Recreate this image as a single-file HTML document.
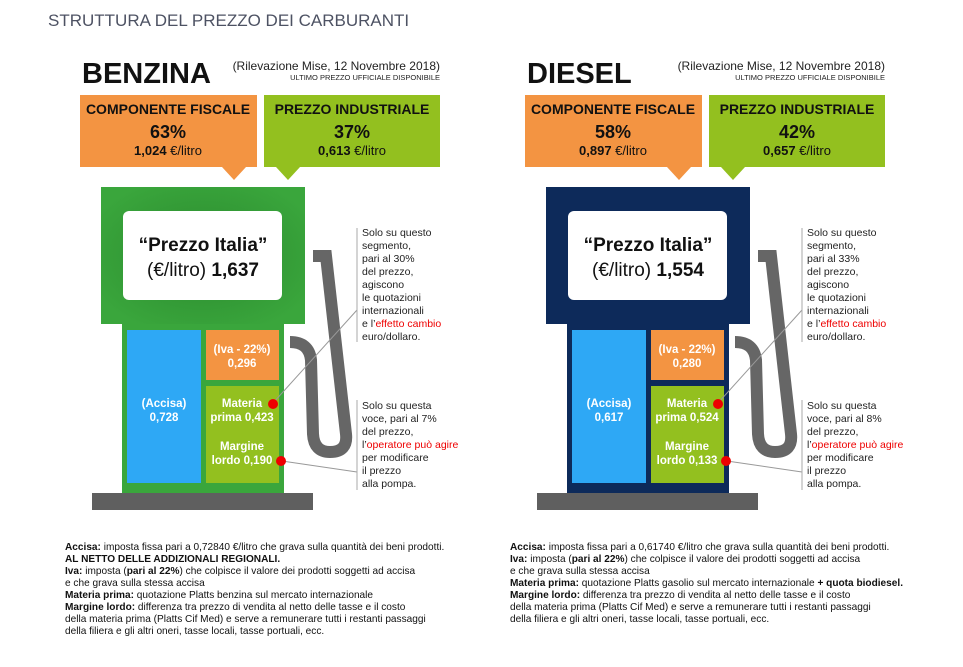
<!DOCTYPE html>
<html><head><meta charset="utf-8"><style>
html,body{margin:0;padding:0;background:#fff;}
svg{display:block;font-family:"Liberation Sans",sans-serif;}
</style></head><body>
<svg width="963" height="667" viewBox="0 0 963 667" xmlns="http://www.w3.org/2000/svg">
<defs>
<radialGradient id="gg" cx="50%" cy="50%" r="60%"><stop offset="0" stop-color="#2a8a2e"/><stop offset="1" stop-color="#3aa63c"/></radialGradient>
</defs>
<text x="48" y="26" font-size="17" fill="#4d5263">STRUTTURA DEL PREZZO DEI CARBURANTI</text>

<!-- BENZINA -->
<g>
<text x="82" y="83" font-size="29" font-weight="bold" fill="#111">BENZINA</text>
<text x="440" y="70" font-size="12" fill="#222" text-anchor="end">(Rilevazione Mise, 12 Novembre 2018)</text>
<text x="440" y="80" font-size="7.5" fill="#222" text-anchor="end">ULTIMO PREZZO UFFICIALE DISPONIBILE</text>
<rect x="80" y="95" width="177" height="72" fill="#f39442"/>
<polygon points="222,167 246,167 234,180" fill="#f39442"/>
<rect x="264" y="95" width="176" height="72" fill="#93c01f"/>
<polygon points="276,167 300,167 288,180" fill="#93c01f"/>
<text x="168" y="114" font-size="14" font-weight="bold" text-anchor="middle" fill="#111">COMPONENTE FISCALE</text>
<text x="168" y="138" font-size="18" font-weight="bold" text-anchor="middle" fill="#111">63%</text>
<text x="168" y="155" font-size="13" text-anchor="middle" fill="#111"><tspan font-weight="bold">1,024</tspan> €/litro</text>
<text x="352" y="114" font-size="14" font-weight="bold" text-anchor="middle" fill="#111">PREZZO INDUSTRIALE</text>
<text x="352" y="138" font-size="18" font-weight="bold" text-anchor="middle" fill="#111">37%</text>
<text x="352" y="155" font-size="13" text-anchor="middle" fill="#111"><tspan font-weight="bold">0,613</tspan> €/litro</text>

<path d="M313 256 L326 256 L346 434 Q348 452 330 452 Q314 452 313 434 L311 360 Q309 342 290 342" fill="none" stroke="#666" stroke-width="12"/>
<rect x="101" y="187" width="204" height="137" fill="url(#gg)"/>
<rect x="122" y="324" width="162" height="169" fill="#3aa63c"/>
<rect x="123" y="211" width="159" height="89" rx="6" fill="#fff"/>
<text x="203" y="251" font-size="19" font-weight="bold" text-anchor="middle" fill="#111">“Prezzo Italia”</text>
<text x="203" y="276" font-size="19" text-anchor="middle" fill="#111">(€/litro) <tspan font-weight="bold">1,637</tspan></text>
<rect x="127" y="330" width="74" height="153" fill="#2ea8f5"/>
<rect x="206" y="330" width="73" height="50" fill="#f39442"/>
<rect x="206" y="386" width="73" height="97" fill="#93c01f"/>
<g fill="#fff" font-size="11.5" font-weight="bold" text-anchor="middle">
<text x="164" y="407">(Accisa)</text><text x="164" y="421">0,728</text>
<text x="242" y="353">(Iva - 22%)</text><text x="242" y="367">0,296</text>
<text x="242" y="407">Materia</text><text x="242" y="421">prima 0,423</text>
<text x="242" y="450">Margine</text><text x="242" y="464">lordo 0,190</text>
</g>
<rect x="92" y="493" width="221" height="17" fill="#5f5f5f"/>
<line x1="273" y1="403" x2="357" y2="310" stroke="#999" stroke-width="1"/>
<line x1="282" y1="461" x2="357" y2="472" stroke="#999" stroke-width="1"/>
<circle cx="273" cy="404" r="5" fill="#e00"/>
<circle cx="281" cy="461" r="5" fill="#e00"/>
<line x1="357" y1="228" x2="357" y2="342" stroke="#aaa"/>
<line x1="357" y1="400" x2="357" y2="490" stroke="#aaa"/>
<g font-size="10.5" fill="#222">
<text x="362" y="236">Solo su questo</text><text x="362" y="249">segmento,</text><text x="362" y="262">pari al 30%</text><text x="362" y="275">del prezzo,</text><text x="362" y="288">agiscono</text><text x="362" y="301">le quotazioni</text><text x="362" y="314">internazionali</text><text x="362" y="327">e l’<tspan fill="#e00">effetto cambio</tspan></text><text x="362" y="340">euro/dollaro.</text>
<text x="362" y="409">Solo su questa</text><text x="362" y="422">voce, pari al 7%</text><text x="362" y="435">del prezzo,</text><text x="362" y="448">l’<tspan fill="#e00">operatore può agire</tspan></text><text x="362" y="461">per modificare</text><text x="362" y="474">il prezzo</text><text x="362" y="487">alla pompa.</text>
</g>
<g font-size="10.1" fill="#111">
<text x="65" y="550"><tspan font-weight="bold">Accisa:</tspan> imposta fissa pari a 0,72840 €/litro che grava sulla quantità dei beni prodotti.</text>
<text x="65" y="562" font-weight="bold">AL NETTO DELLE ADDIZIONALI REGIONALI.</text>
<text x="65" y="574"><tspan font-weight="bold">Iva:</tspan> imposta (<tspan font-weight="bold">pari al 22%</tspan>) che colpisce il valore dei prodotti soggetti ad accisa</text>
<text x="65" y="586">e che grava sulla stessa accisa</text>
<text x="65" y="598"><tspan font-weight="bold">Materia prima:</tspan> quotazione Platts benzina sul mercato internazionale</text>
<text x="65" y="610"><tspan font-weight="bold">Margine lordo:</tspan> differenza tra prezzo di vendita al netto delle tasse e il costo</text>
<text x="65" y="622">della materia prima (Platts Cif Med) e serve a remunerare tutti i restanti passaggi</text>
<text x="65" y="634">della filiera e gli altri oneri, tasse locali, tasse portuali, ecc.</text>
</g>
</g>

<!-- DIESEL -->
<g transform="translate(445,0)">
<text x="82" y="83" font-size="29" font-weight="bold" fill="#111">DIESEL</text>
<text x="440" y="70" font-size="12" fill="#222" text-anchor="end">(Rilevazione Mise, 12 Novembre 2018)</text>
<text x="440" y="80" font-size="7.5" fill="#222" text-anchor="end">ULTIMO PREZZO UFFICIALE DISPONIBILE</text>
<rect x="80" y="95" width="177" height="72" fill="#f39442"/>
<polygon points="222,167 246,167 234,180" fill="#f39442"/>
<rect x="264" y="95" width="176" height="72" fill="#93c01f"/>
<polygon points="276,167 300,167 288,180" fill="#93c01f"/>
<text x="168" y="114" font-size="14" font-weight="bold" text-anchor="middle" fill="#111">COMPONENTE FISCALE</text>
<text x="168" y="138" font-size="18" font-weight="bold" text-anchor="middle" fill="#111">58%</text>
<text x="168" y="155" font-size="13" text-anchor="middle" fill="#111"><tspan font-weight="bold">0,897</tspan> €/litro</text>
<text x="352" y="114" font-size="14" font-weight="bold" text-anchor="middle" fill="#111">PREZZO INDUSTRIALE</text>
<text x="352" y="138" font-size="18" font-weight="bold" text-anchor="middle" fill="#111">42%</text>
<text x="352" y="155" font-size="13" text-anchor="middle" fill="#111"><tspan font-weight="bold">0,657</tspan> €/litro</text>

<path d="M313 256 L326 256 L346 434 Q348 452 330 452 Q314 452 313 434 L311 360 Q309 342 290 342" fill="none" stroke="#666" stroke-width="12"/>
<rect x="101" y="187" width="204" height="137" fill="#0d2a5a"/>
<rect x="122" y="324" width="162" height="169" fill="#0d2a5a"/>
<rect x="123" y="211" width="159" height="89" rx="6" fill="#fff"/>
<text x="203" y="251" font-size="19" font-weight="bold" text-anchor="middle" fill="#111">“Prezzo Italia”</text>
<text x="203" y="276" font-size="19" text-anchor="middle" fill="#111">(€/litro) <tspan font-weight="bold">1,554</tspan></text>
<rect x="127" y="330" width="74" height="153" fill="#2ea8f5"/>
<rect x="206" y="330" width="73" height="50" fill="#f39442"/>
<rect x="206" y="386" width="73" height="97" fill="#93c01f"/>
<g fill="#fff" font-size="11.5" font-weight="bold" text-anchor="middle">
<text x="164" y="407">(Accisa)</text><text x="164" y="421">0,617</text>
<text x="242" y="353">(Iva - 22%)</text><text x="242" y="367">0,280</text>
<text x="242" y="407">Materia</text><text x="242" y="421">prima 0,524</text>
<text x="242" y="450">Margine</text><text x="242" y="464">lordo 0,133</text>
</g>
<rect x="92" y="493" width="221" height="17" fill="#5f5f5f"/>
<line x1="273" y1="403" x2="357" y2="310" stroke="#999" stroke-width="1"/>
<line x1="282" y1="461" x2="357" y2="472" stroke="#999" stroke-width="1"/>
<circle cx="273" cy="404" r="5" fill="#e00"/>
<circle cx="281" cy="461" r="5" fill="#e00"/>
<line x1="357" y1="228" x2="357" y2="342" stroke="#aaa"/>
<line x1="357" y1="400" x2="357" y2="490" stroke="#aaa"/>
<g font-size="10.5" fill="#222">
<text x="362" y="236">Solo su questo</text><text x="362" y="249">segmento,</text><text x="362" y="262">pari al 33%</text><text x="362" y="275">del prezzo,</text><text x="362" y="288">agiscono</text><text x="362" y="301">le quotazioni</text><text x="362" y="314">internazionali</text><text x="362" y="327">e l’<tspan fill="#e00">effetto cambio</tspan></text><text x="362" y="340">euro/dollaro.</text>
<text x="362" y="409">Solo su questa</text><text x="362" y="422">voce, pari al 8%</text><text x="362" y="435">del prezzo,</text><text x="362" y="448">l’<tspan fill="#e00">operatore può agire</tspan></text><text x="362" y="461">per modificare</text><text x="362" y="474">il prezzo</text><text x="362" y="487">alla pompa.</text>
</g>
<g font-size="10.1" fill="#111">
<text x="65" y="550"><tspan font-weight="bold">Accisa:</tspan> imposta fissa pari a 0,61740 €/litro che grava sulla quantità dei beni prodotti.</text>
<text x="65" y="562"><tspan font-weight="bold">Iva:</tspan> imposta (<tspan font-weight="bold">pari al 22%</tspan>) che colpisce il valore dei prodotti soggetti ad accisa</text>
<text x="65" y="574">e che grava sulla stessa accisa</text>
<text x="65" y="586"><tspan font-weight="bold">Materia prima:</tspan> quotazione Platts gasolio sul mercato internazionale <tspan font-weight="bold">+ quota biodiesel.</tspan></text>
<text x="65" y="598"><tspan font-weight="bold">Margine lordo:</tspan> differenza tra prezzo di vendita al netto delle tasse e il costo</text>
<text x="65" y="610">della materia prima (Platts Cif Med) e serve a remunerare tutti i restanti passaggi</text>
<text x="65" y="622">della filiera e gli altri oneri, tasse locali, tasse portuali, ecc.</text>
</g>
</g>
</svg>
</body></html>
